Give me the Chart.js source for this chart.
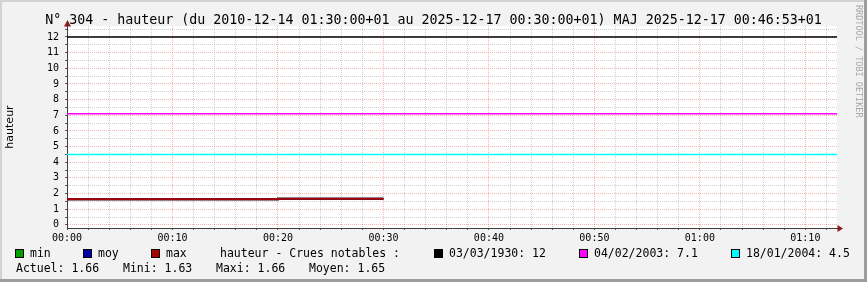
<!DOCTYPE html>
<html lang="fr">
<head>
    <meta charset="UTF-8">
    <title>N° 304 - hauteur</title>
    <script src="https://cdn.jsdelivr.net/npm/chart.js"></script>
    <style>
        html, body { margin: 0; padding: 0; background: #f2f2f2; }
        canvas { display: block; }
    </style>
</head>
<body>
    <canvas id="myChart" width="867" height="282"></canvas>

    <script>
        // mesures (minutes depuis 00:00)
        const minutes = [0, 10, 20, 30];
        const minValues = [1.63, 1.63, 1.66, 1.66];
        const moyValues = [1.63, 1.63, 1.66, 1.66];
        const maxValues = [1.63, 1.63, 1.66, 1.66];

        // crues notables
        const crueDates = ['03/03/1930', '04/02/2003', '18/01/2004'];
        const crueValues = [12, 7.1, 4.5];
        const crueColors = ['#000000', '#ff00ff', '#00ffff'];

        // stats
        const statLabels = ['Actuel', 'Mini', 'Maxi', 'Moyen'];
        const statValues = [1.66, 1.63, 1.66, 1.65];

        // axes
        const xTickMinutes = [0, 10, 20, 30, 40, 50, 60, 70];
        const xTickLabels = ['00:00', '00:10', '00:20', '00:30', '00:40', '00:50', '01:00', '01:10'];
        const yTickLabels = ['0', '1', '2', '3', '4', '5', '6', '7', '8', '9', '10', '11', '12'];

        const TITLE = 'N° 304 - hauteur (du 2010-12-14 01:30:00+01 au 2025-12-17 00:30:00+01) MAJ 2025-12-17 00:46:53+01';
        const X_MAX = 73;
        const Y_MIN = -0.2, Y_MAX = 12.7;
        const MONO = 'DejaVu Sans Mono';
        const MAJOR = 'rgba(240, 110, 110, 0.5)';
        const MINOR = 'rgba(160, 160, 160, 0.5)';
        const ARROW = '#8c1c1c';

        const rrdPlugin = {
            id: 'rrd',
            beforeDraw(chart) {
                const ctx = chart.ctx, a = chart.chartArea;
                const W = chart.width, H = chart.height;
                ctx.save();
                ctx.fillStyle = '#f2f2f2';
                ctx.fillRect(0, 0, W, H);
                // bordure facon rrdtool
                ctx.fillStyle = '#d2d2d2';
                ctx.fillRect(0, 0, W, 2);
                ctx.fillRect(0, 0, 2, H);
                ctx.fillStyle = '#9c9c9c';
                ctx.fillRect(W - 3, 0, 3, H);
                ctx.fillRect(0, H - 3, W, 3);
                ctx.fillStyle = '#ffffff';
                ctx.fillRect(a.left, a.top, a.right - a.left, a.bottom - a.top);
                ctx.restore();
            },
            afterDraw(chart) {
                const ctx = chart.ctx, a = chart.chartArea;
                ctx.save();

                // titre
                ctx.fillStyle = '#000';
                ctx.font = '13.3px "' + MONO + '"';
                ctx.textAlign = 'center';
                ctx.textBaseline = 'alphabetic';
                ctx.fillText(TITLE, chart.width / 2, 24);

                // prolongement des axes + fleches
                ctx.strokeStyle = '#404040';
                ctx.lineWidth = 1;
                ctx.beginPath();
                ctx.moveTo(a.left + 0.5, a.top);
                ctx.lineTo(a.left + 0.5, a.top - 2);
                ctx.moveTo(a.right, a.bottom + 0.5);
                ctx.lineTo(a.right + 3, a.bottom + 0.5);
                ctx.stroke();
                ctx.fillStyle = ARROW;
                ctx.beginPath();
                ctx.moveTo(a.left + 0.5, a.top - 6);
                ctx.lineTo(a.left - 3, a.top + 0.5);
                ctx.lineTo(a.left + 4, a.top + 0.5);
                ctx.closePath();
                ctx.fill();
                ctx.beginPath();
                ctx.moveTo(a.right + 6, a.bottom + 0.5);
                ctx.lineTo(a.right + 0.5, a.bottom - 3);
                ctx.lineTo(a.right + 0.5, a.bottom + 4);
                ctx.closePath();
                ctx.fill();

                // legende
                const box = (x, y, color) => {
                    ctx.fillStyle = color;
                    ctx.fillRect(x, y, 9, 9);
                    ctx.strokeStyle = '#000';
                    ctx.strokeRect(x + 0.5, y + 0.5, 8, 8);
                };
                ctx.font = '11.5px "' + MONO + '"';
                ctx.textBaseline = 'middle';
                ctx.textAlign = 'left';
                const row1 = 254, row2 = 268;
                const series = chart.data.datasets.slice(0, 3);
                const seriesX = [15, 83, 151];
                series.forEach((ds, i) => {
                    box(seriesX[i], row1 - 5, ds.legendColor);
                    ctx.fillStyle = '#000';
                    ctx.fillText(ds.label, seriesX[i] + 15, row1);
                });
                ctx.fillStyle = '#000';
                ctx.fillText('hauteur - Crues notables :', 220, row1);
                const crueX = [434, 579, 731];
                crueDates.forEach((d, i) => {
                    box(crueX[i], row1 - 5, crueColors[i]);
                    ctx.fillStyle = '#000';
                    ctx.fillText(d + ': ' + crueValues[i], crueX[i] + 15, row1);
                });
                const statX = [16, 123, 216, 309];
                statLabels.forEach((l, i) => {
                    ctx.fillText(l + ': ' + statValues[i].toFixed(2), statX[i], row2 + 1);
                });

                // signature verticale
                ctx.translate(858, 5);
                ctx.rotate(Math.PI / 2);
                ctx.font = '8.5px "' + MONO + '"';
                ctx.fillStyle = '#a8a8a8';
                ctx.fillText('RRDTOOL / TOBI OETIKER', 0, 0);
                ctx.restore();
            }
        };

        const toPoints = vals => vals.map((v, i) => ({x: minutes[i], y: v}));
        const seriesLine = (label, vals, color, order) => ({
            label: label,
            data: toPoints(vals),
            borderColor: color,
            legendColor: color,
            borderWidth: 2,
            stepped: 'before',
            pointRadius: 0,
            order: order
        });

        const datasets = [
            seriesLine('min', minValues, '#00a000', 3),
            seriesLine('moy', moyValues, '#0000aa', 2),
            seriesLine('max', maxValues, '#aa0000', 0)
        ];
        crueValues.forEach((v, i) => {
            datasets.push({
                label: crueDates[i],
                data: [{x: 0, y: v}, {x: X_MAX, y: v}],
                borderColor: crueColors[i],
                borderWidth: 1.5,
                pointRadius: 0,
                order: 5
            });
        });

        const ctx = document.getElementById('myChart').getContext('2d');
        const myChart = new Chart(ctx, {
            type: 'line',
            data: { datasets: datasets },
            plugins: [rrdPlugin],
            options: {
                responsive: false,
                maintainAspectRatio: false,
                devicePixelRatio: 1,
                animation: false,
                layout: { padding: { top: 26, right: 30, left: 0, bottom: 0 } },
                plugins: {
                    legend: { display: false },
                    tooltip: { enabled: false },
                    title: { display: false }
                },
                scales: {
                    x: {
                        type: 'linear',
                        min: 0,
                        max: X_MAX,
                        afterBuildTicks: s => {
                            const t = [];
                            for (let m = 0; m <= X_MAX; m += 2) t.push({value: m});
                            s.ticks = t;
                        },
                        afterFit: s => { s.height = 54; },
                        ticks: {
                            autoSkip: false,
                            maxRotation: 0,
                            padding: 2,
                            color: '#000',
                            font: { family: MONO, size: 10 },
                            callback: v => {
                                const k = xTickMinutes.indexOf(v);
                                return k >= 0 ? xTickLabels[k] : '';
                            }
                        },
                        grid: {
                            color: c => (c.tick && c.tick.value % 10 === 0) ? MAJOR : MINOR,
                            tickLength: 2,
                            tickColor: '#606060'
                        },
                        border: { color: '#404040', width: 1, dash: [1, 1] }
                    },
                    y: {
                        min: Y_MIN,
                        max: Y_MAX,
                        afterBuildTicks: s => {
                            const t = [];
                            for (let k = 0; k <= 25; k++) t.push({value: k / 2});
                            s.ticks = t;
                        },
                        afterFit: s => { s.width = 67; },
                        title: {
                            display: true,
                            text: 'hauteur',
                            color: '#000',
                            font: { family: 'DejaVu Sans', size: 11 },
                            padding: { top: 4, bottom: 0 }
                        },
                        ticks: {
                            autoSkip: false,
                            padding: 6,
                            color: '#000',
                            font: { family: MONO, size: 10 },
                            callback: v => Number.isInteger(v) ? yTickLabels[v] : ''
                        },
                        grid: {
                            color: c => (c.tick && Number.isInteger(c.tick.value)) ? MAJOR : MINOR,
                            tickLength: 2,
                            tickColor: '#606060'
                        },
                        border: { color: '#404040', width: 1, dash: [1, 1] }
                    }
                }
            }
        });
    </script>
</body>
</html>
